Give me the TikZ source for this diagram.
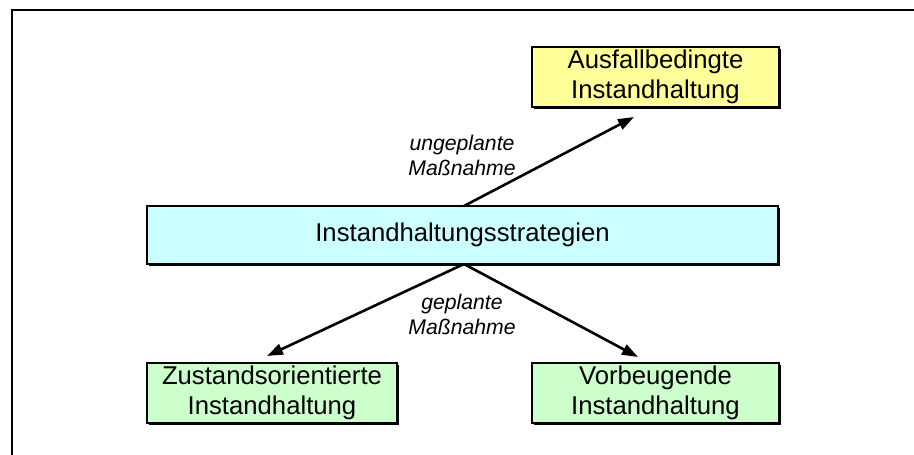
\documentclass[tikz,border=0pt]{standalone}
\usepackage{fontspec}
\setmainfont{Liberation Sans}
\usetikzlibrary{arrows.meta,shadows}
\definecolor{boxyellow}{HTML}{FFFF99}
\definecolor{boxcyan}{HTML}{CCFFFF}
\definecolor{boxgreen}{HTML}{CCFFCC}
\begin{document}
\begin{tikzpicture}[x=1pt,y=-1pt,
  box/.style={draw=black, line width=2.4pt, inner sep=0pt, align=center,
    font=\fontsize{25.7}{29.5}\selectfont,
    drop shadow={shadow xshift=1.6pt, shadow yshift=-1.6pt, fill=black, opacity=1}},
  lbl/.style={align=center, font=\fontsize{21.2}{25}\selectfont\itshape, inner sep=0pt},
  conn/.style={line width=2.6pt, -{Triangle[length=16pt,width=11pt]}}]
\useasboundingbox (0,0) rectangle (914,455);
\draw[line width=2.6pt] (12,455) -- (12,10) -- (914,10);
\node[box, fill=boxyellow, minimum width=247pt, minimum height=60pt] (fail) at (655.5,77) {Ausfallbedingte\\Instandhaltung};
\node[box, fill=boxcyan, minimum width=631pt, minimum height=58pt] (strat) at (462.5,235) {Instandhaltungsstrategien};
\node[box, fill=boxgreen, minimum width=250pt, minimum height=60pt] (cond) at (272,393) {Zustandsorientierte\\Instandhaltung};
\node[box, fill=boxgreen, minimum width=247pt, minimum height=60pt] (prev) at (655.5,393) {Vorbeugende\\Instandhaltung};
\coordinate (tipA) at (634,117);
\coordinate (tipB) at (267,356);
\coordinate (tipC) at (638,357);
\coordinate (topS) at (464,206);
\coordinate (botS) at (464,264);
\draw[conn] (topS) -- (tipA);
\draw[conn] (botS) -- (tipB);
\draw[conn] (botS) -- (tipC);
\node[lbl] (unpl) at (462,155) {ungeplante\\Maßnahme};
\node[lbl] (pl) at (462,314) {geplante\\Maßnahme};
\end{tikzpicture}
\end{document}
